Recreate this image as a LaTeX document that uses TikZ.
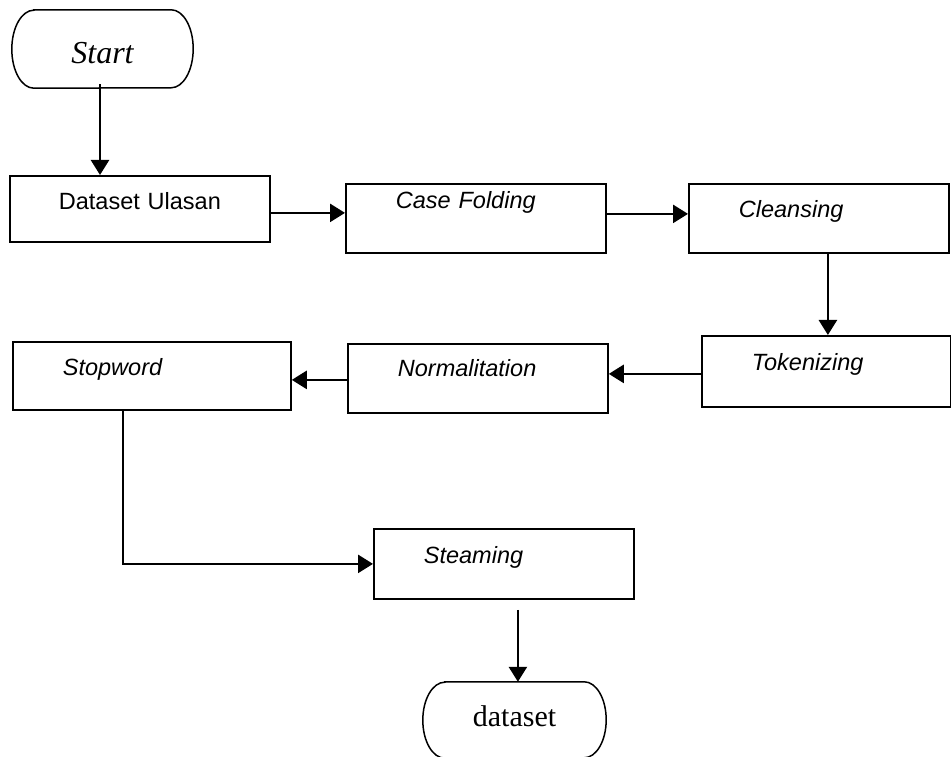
\documentclass[tikz,border=0pt]{standalone}
\usepackage{fontspec}
\setmainfont{Liberation Serif}
\setsansfont{Liberation Sans}
\usetikzlibrary{arrows.meta}
\tikzset{
  stepbox/.style={draw, line width=1.8pt, rectangle, anchor=north west,
    inner ysep=0pt, inner xsep=50pt, align=left,
    font=\sffamily\itshape\fontsize{23.5}{28}\selectfont},
  flow/.style={-{Triangle[length=15pt,width=18pt]}, line width=2.6pt},
  term/.style={inner sep=0pt, font=\fontsize{30}{34}\selectfont},
  termline/.style={line width=1.5pt}
}
\begin{document}
\begin{tikzpicture}[x=1pt, y=1pt]
  \useasboundingbox (0,0) rectangle (951,757);
  % Start terminal
  \node[term, font=\itshape\fontsize{32}{36}\selectfont, text height=54pt, text depth=24pt, minimum width=181pt] (start) at (102.5,708) {Start};
  \draw[termline] ([xshift=22pt]start.north west) -- ([xshift=-22pt]start.north east)
    arc[start angle=90, end angle=-90, x radius=22pt, y radius=39pt]
    -- ([xshift=22pt]start.south west)
    arc[start angle=270, end angle=90, x radius=22pt, y radius=39pt] -- cycle;
  % Process boxes, first row
  \node[stepbox, font=\sffamily\fontsize{23.5}{28}\selectfont, inner xsep=40pt, text width=180pt, align=center, text height=34pt, text depth=32pt] (ulasan) at (9,582) {Dataset Ulasan};
  \node[stepbox, text width=160pt, text height=25pt, text depth=44pt] (casefold) at (345,574) {Case Folding};
  \node[stepbox, text width=160pt, text height=34pt, text depth=35pt] (cleans) at (688,574) {Cleansing};
  % Second row
  \node[stepbox, text width=149pt, text height=35pt, text depth=36pt] (token) at (701,422) {Tokenizing};
  \node[stepbox, text width=160pt, text height=33pt, text depth=36pt] (norm) at (347,414) {Normalitation};
  \node[stepbox, text width=178pt, text height=34pt, text depth=34pt] (stop) at (12,416) {Stopword};
  % Third row
  \node[stepbox, text width=160pt, text height=35pt, text depth=35pt] (steam) at (373,229) {Steaming};
  % End terminal
  \node[term, text height=45pt, text depth=31pt, minimum width=183pt] (dataset) at (514.5,37) {dataset};
  \draw[termline] ([xshift=22pt]dataset.north west) -- ([xshift=-22pt]dataset.north east)
    arc[start angle=90, end angle=-90, x radius=22pt, y radius=38pt]
    -- ([xshift=22pt]dataset.south west)
    arc[start angle=270, end angle=90, x radius=22pt, y radius=38pt] -- cycle;
  % Connectors
  \draw[flow] ([xshift=-2.5pt,yshift=4pt]start.south) -- ([xshift=-2.5pt]start.south |- ulasan.north);
  \draw[flow] ([yshift=-4pt]ulasan.east) -- ([yshift=-4pt]ulasan.east -| casefold.west);
  \draw[flow] ([yshift=4.5pt]casefold.east) -- ([yshift=4.5pt]casefold.east -| cleans.west);
  \draw[flow] ([xshift=9pt]cleans.south) -- ([xshift=9pt]cleans.south |- token.north);
  \draw[flow] ([yshift=-2.5pt]token.west) -- ([yshift=-2.5pt]token.west -| norm.east);
  \draw[flow] ([yshift=-1.5pt]norm.west) -- ([yshift=-1.5pt]norm.west -| stop.east);
  \draw[flow] ([xshift=-29pt]stop.south) |- (steam.west);
  \draw[flow] ([xshift=14pt,yshift=-10pt]steam.south) -- ([xshift=14pt]steam.south |- dataset.north);
\end{tikzpicture}
\end{document}
